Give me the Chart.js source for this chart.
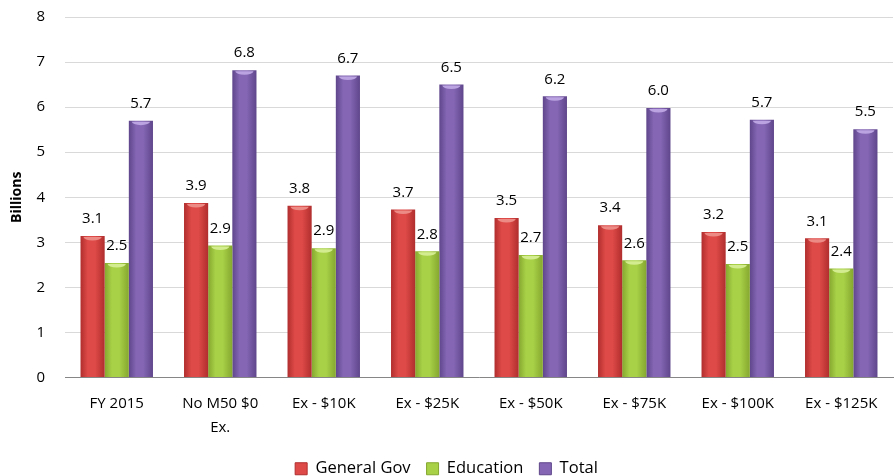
<!DOCTYPE html>
<html>
<head>
<meta charset="utf-8">
<script src="https://cdn.jsdelivr.net/npm/chart.js@4"></script>
<style>
  html, body { margin: 0; padding: 0; background: #fff; }
  #wrap { width: 895px; height: 476px; }
</style>
</head>
<body>
<div id="wrap"><canvas id="chart"></canvas></div>
<script>
// categories and values (billions)
const categories = ['FY 2015', ['No M50 $0', 'Ex.'], 'Ex - $10K', 'Ex - $25K', 'Ex - $50K', 'Ex - $75K', 'Ex - $100K', 'Ex - $125K'];
const generalGov = [3.14, 3.87, 3.81, 3.73, 3.54, 3.38, 3.23, 3.09];
const education = [2.54, 2.93, 2.87, 2.80, 2.72, 2.60, 2.52, 2.42];
const total = [5.70, 6.82, 6.70, 6.50, 6.24, 5.98, 5.72, 5.51];
const yTicks = [0, 1, 2, 3, 4, 5, 6, 7, 8];

const FONT = "'Open Sans'";
// edge / middle / cap colours for the cylinder look
const shades = [
    { edge: '#b02e2e', mid: '#de4a47', cap: '#ec8a86' },
    { edge: '#85a72f', mid: '#a8d147', cap: '#d3ec8f' },
    { edge: '#5f468b', mid: '#8466b4', cap: '#baa3e0' }
];

// shade each bar left-to-right like the excel cylinders
const cylinderPlugin = {
    id: 'cylinder',
    beforeDatasetsDraw(chart) {
        const ctx = chart.ctx;
        chart.data.datasets.forEach((ds, di) => {
            const s = shades[di];
            chart.getDatasetMeta(di).data.forEach(bar => {
                const x0 = bar.x - bar.width / 2;
                const g = ctx.createLinearGradient(x0, 0, x0 + bar.width, 0);
                g.addColorStop(0, s.edge);
                g.addColorStop(0.3, s.mid);
                g.addColorStop(0.6, s.mid);
                g.addColorStop(1, s.edge);
                // options are shared between bars, so give each its own copy
                bar.options = Object.assign({}, bar.options, { backgroundColor: g });
            });
        });
    },
    afterDatasetsDraw(chart) {
        const ctx = chart.ctx;
        ctx.save();
        chart.data.datasets.forEach((ds, di) => {
            const s = shades[di];
            chart.getDatasetMeta(di).data.forEach((bar, i) => {
                // little lit cap on top
                ctx.fillStyle = s.cap;
                ctx.beginPath();
                ctx.ellipse(bar.x, bar.y + 1, bar.width / 2 - 3, 3.5, 0, 0, Math.PI);
                ctx.fill();
                // value label
                ctx.fillStyle = '#000';
                ctx.font = '15px ' + FONT;
                ctx.textAlign = 'center';
                ctx.textBaseline = 'middle';
                ctx.fillText(ds.data[i].toFixed(1), bar.x, bar.y - 17);
            });
        });
        ctx.restore();
    }
};

new Chart(document.getElementById('chart'), {
    type: 'bar',
    data: {
        labels: categories,
        datasets: [
            { label: 'General Gov', data: generalGov, backgroundColor: shades[0].mid },
            { label: 'Education', data: education, backgroundColor: shades[1].mid },
            { label: 'Total', data: total, backgroundColor: shades[2].mid }
        ]
    },
    plugins: [cylinderPlugin],
    options: {
        responsive: true,
        maintainAspectRatio: false,
        animation: false,
        layout: { padding: { top: 2, right: 2, bottom: -11, left: 0 } },
        datasets: {
            bar: { categoryPercentage: 0.7, barPercentage: 1.0 }
        },
        plugins: {
            legend: {
                position: 'bottom',
                labels: {
                    boxWidth: 12,
                    boxHeight: 12,
                    padding: 16,
                    color: '#000',
                    font: { family: FONT, size: 16.5 },
                    generateLabels(chart) {
                        return chart.data.datasets.map((ds, i) => ({
                            text: ds.label,
                            fillStyle: shades[i].mid,
                            strokeStyle: shades[i].edge,
                            lineWidth: 1,
                            datasetIndex: i
                        }));
                    }
                }
            },
            tooltip: { enabled: false }
        },
        scales: {
            x: {
                grid: { display: false },
                border: { color: '#868686', width: 1 },
                ticks: {
                    color: '#000',
                    padding: 6,
                    maxRotation: 0,
                    autoSkip: false,
                    font: { family: FONT, size: 15, lineHeight: 1.6 }
                },
                afterFit(scale) { scale.height = 67; }
            },
            y: {
                min: 0,
                max: 8,
                afterBuildTicks(scale) { scale.ticks = yTicks.map(v => ({ value: v })); },
                // invisible tick marks push the labels left without adding top padding
                grid: { color: '#d9d9d9', drawTicks: true, tickLength: 12, tickColor: 'rgba(0,0,0,0)' },
                border: { display: false },
                ticks: {
                    color: '#000',
                    padding: 8,
                    font: { family: FONT, size: 15 }
                },
                title: {
                    display: true,
                    text: 'Billions',
                    color: '#000',
                    padding: { top: 9, bottom: 0 },
                    font: { family: FONT, size: 14, weight: 'bold' }
                },
                afterFit(scale) { scale.width = 65; }
            }
        }
    }
});
</script>
</body>
</html>
